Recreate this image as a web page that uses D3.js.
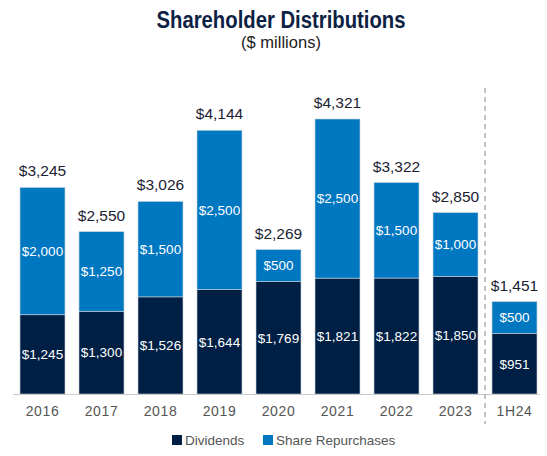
<!DOCTYPE html>
<html><head><meta charset="utf-8">
<script src="https://cdn.jsdelivr.net/npm/d3@7"></script>
<style>body{margin:0;background:#fff}</style>
</head><body>
<svg id="c" width="547" height="456"></svg>
<script>
const categories = ["2016","2017","2018","2019","2020","2021","2022","2023","1H24"];
const dividends = [1245,1300,1526,1644,1769,1821,1822,1850,951];
const repurchases = [2000,1250,1500,2500,500,2500,1500,1000,500];
const totals = [3245,2550,3026,4144,2269,4321,3322,2850,1451];
const seriesNames = ["Dividends","Share Repurchases"];
const colors = ["#001f45","#0077c1"];

const svg = d3.select("#c");
const font = "'Liberation Sans', Arial, sans-serif";
const pi = 14/59;
const x = d3.scaleBand().domain(categories).range([13, 544]).paddingInner(pi).paddingOuter(pi/2);
const y = d3.scaleLinear().domain([0, 4321]).range([394, 119]);

const data = categories.map((c,i)=>({cat:c, Dividends:dividends[i], "Share Repurchases":repurchases[i], total:totals[i]}));
const stack = d3.stack().keys(seriesNames)(data);

const g = svg.append("g");
stack.forEach((s,si)=>{
  g.selectAll(null).data(s).join("rect")
    .attr("x", d=>x(d.data.cat)).attr("width", x.bandwidth())
    .attr("y", d=>y(d[1])).attr("height", d=>y(d[0])-y(d[1]))
    .attr("fill", colors[si]).attr("stroke","#c8d3de").attr("stroke-width",0.6);
  g.selectAll(null).data(s).join("text")
    .attr("x", d=>x(d.data.cat)+x.bandwidth()/2)
    .attr("y", d=>(y(d[0])+y(d[1]))/2)
    .attr("dy","0.36em").attr("text-anchor","middle")
    .attr("fill","#fff").attr("font-family",font).attr("font-size",13.5)
    .text(d=>"$"+d3.format(",")(d[1]-d[0]));
});
g.selectAll(null).data(data).join("text")
  .attr("x", d=>x(d.cat)+x.bandwidth()/2)
  .attr("y", d=>y(d.total)-11)
  .attr("text-anchor","middle").attr("fill","#1b2233")
  .attr("font-family",font).attr("font-size",15.5)
  .text(d=>"$"+d3.format(",")(d.total));

// axis
const ax = svg.append("g").attr("transform","translate(0,394)").call(d3.axisBottom(x).tickSize(0).tickPadding(12));
ax.select(".domain").attr("stroke","#c8c8c8").attr("d","M13,0.5H540");
ax.selectAll("text").attr("font-family",font).attr("font-size",14).attr("fill","#555").attr("letter-spacing","0.6px");

// separator
const sepX = (x("2023")+x.bandwidth() + x("1H24"))/2;
svg.append("line").attr("x1",sepX).attr("x2",sepX).attr("y1",88).attr("y2",424)
  .attr("stroke","#8a8a8a").attr("stroke-width",1).attr("stroke-dasharray","5,4");

// title
svg.append("text").attr("x",281).attr("y",28).attr("text-anchor","middle")
  .attr("font-family","'Liberation Sans Narrow', 'Arial Narrow', 'Liberation Sans', sans-serif").attr("font-weight","bold")
  .attr("font-size",23).attr("fill","#0d2143")
  .attr("textLength",249).attr("lengthAdjust","spacingAndGlyphs")
  .text("Shareholder Distributions");
svg.append("text").attr("x",281).attr("y",48).attr("text-anchor","middle")
  .attr("font-family",font).attr("font-size",16.5).attr("fill","#222").text("($ millions)");

// legend
const leg = svg.append("g");
const legX = [172, 263];
seriesNames.forEach((n,i)=>{
  leg.append("rect").attr("x",legX[i]).attr("y",435).attr("width",10).attr("height",10).attr("fill",colors[i]);
  leg.append("text").attr("x",legX[i]+13).attr("y",444.5).attr("font-family",font).attr("font-size",13.5)
    .attr("fill","#555").text(n);
});
</script>
</body></html>
